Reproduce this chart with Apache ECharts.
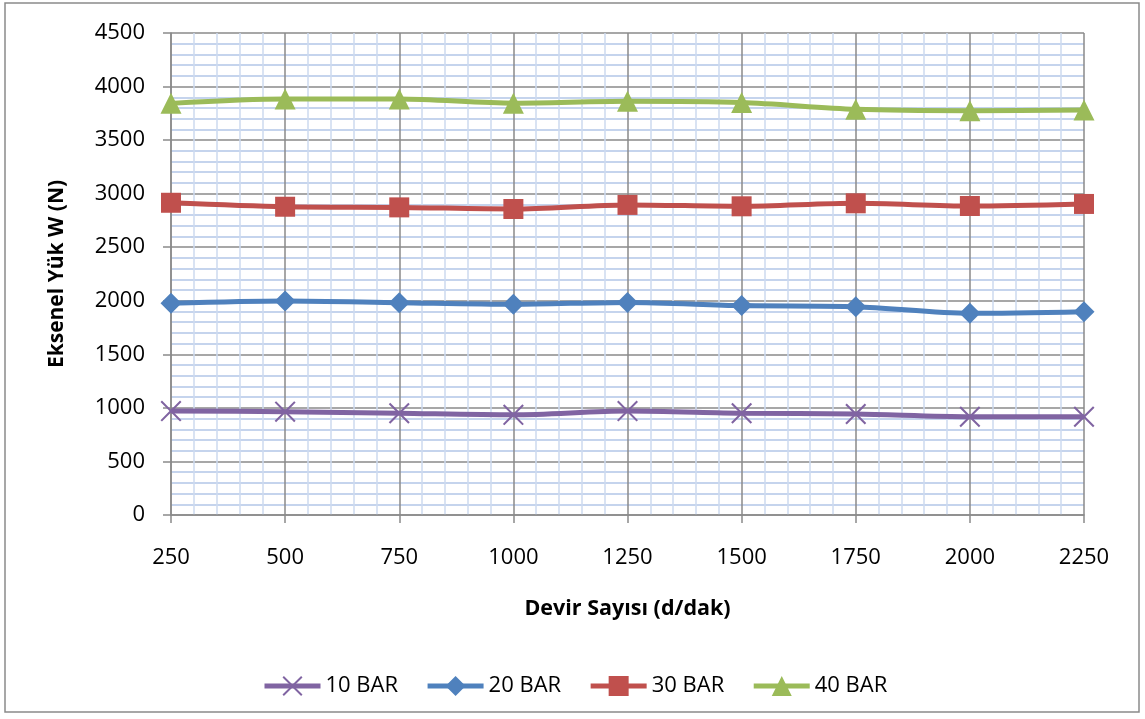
<!DOCTYPE html>
<html>
<head>
<meta charset="utf-8">
<script src="https://cdn.jsdelivr.net/npm/echarts@6/dist/echarts.min.js"></script>
<style>
  html, body { margin: 0; padding: 0; background: #fff; }
  #chart { width: 1145px; height: 719px; }
</style>
</head>
<body>
<div id="chart"></div>
<script>
// Rotational speed (d/dak)
const rpm = [250, 500, 750, 1000, 1250, 1500, 1750, 2000, 2250];
// Axial load W (N) per supply pressure
const bar10 = [970, 965, 950, 935, 970, 950, 943, 918, 918];
const bar20 = [1976, 1998, 1982, 1967, 1985, 1955, 1945, 1883, 1898];
const bar30 = [2915, 2878, 2872, 2857, 2895, 2882, 2910, 2885, 2904];
const bar40 = [3843, 3884, 3884, 3845, 3862, 3850, 3788, 3775, 3781];
const seriesNames = ['10 BAR', '20 BAR', '30 BAR', '40 BAR'];

const FONT = '"Open Sans", "Noto Sans", sans-serif';
const GRID_MAJOR = '#8a8a8a';

// thin "x" marker drawn as a filled outline
const crossPath = 'path://M0,1.4L1.4,0L10,8.6L18.6,0L20,1.4L11.4,10L20,18.6L18.6,20L10,11.4L1.4,20L0,18.6L8.6,10Z';

function pairs(values) {
  return rpm.map((r, i) => [r, values[i]]);
}

function lineSeries(name, values, color, symbol, size) {
  return {
    name: name,
    type: 'line',
    data: pairs(values),
    smooth: 0.3,
    symbol: symbol,
    symbolSize: size,
    showAllSymbol: true,
    lineStyle: { color: color, width: 5 },
    itemStyle: { color: color },
    emphasis: { disabled: true },
    z: 3
  };
}

const plainNumber = v => String(v);

const chart = echarts.init(document.getElementById('chart'), null, { renderer: 'canvas' });

chart.setOption({
  animation: false,
  backgroundColor: '#ffffff',
  textStyle: { fontFamily: FONT },
  graphic: [{
    type: 'rect',
    shape: { x: 5, y: 3, width: 1134, height: 709 },
    style: { fill: 'none', stroke: '#8a8a8a', lineWidth: 1.5 },
    silent: true,
    z: -10
  }],
  grid: { left: 171, right: 61, top: 33, bottom: 204, containLabel: false },
  xAxis: {
    type: 'value',
    min: 250,
    max: 2250,
    interval: 250,
    name: 'Devir Sayısı (d/dak)',
    nameLocation: 'middle',
    nameGap: 83,
    nameTextStyle: { fontFamily: FONT, fontWeight: 'bold', fontSize: 21.5, color: '#000' },
    axisLine: { show: true, lineStyle: { color: GRID_MAJOR, width: 1.5 } },
    axisTick: { show: true, length: 8, lineStyle: { color: GRID_MAJOR, width: 1.5 } },
    axisLabel: { fontFamily: FONT, fontSize: 22, color: '#000', margin: 32, formatter: plainNumber },
    splitLine: { show: true, lineStyle: { color: GRID_MAJOR, width: 1.5 } },
    minorTick: { show: false, splitNumber: 5 },
    minorSplitLine: { show: true, lineStyle: { color: '#cddaf0', width: 1.5 } }
  },
  yAxis: {
    type: 'value',
    min: 0,
    max: 4500,
    interval: 500,
    name: 'Eksenel Yük W (N)',
    nameLocation: 'middle',
    nameGap: 103,
    nameTextStyle: { fontFamily: FONT, fontWeight: 'bold', fontSize: 21, color: '#000' },
    axisLine: { show: true, lineStyle: { color: GRID_MAJOR, width: 1.5 } },
    axisTick: { show: true, length: 8, lineStyle: { color: GRID_MAJOR, width: 1.5 } },
    axisLabel: { fontFamily: FONT, fontSize: 22, color: '#000', margin: 26, formatter: plainNumber },
    splitLine: { show: true, lineStyle: { color: GRID_MAJOR, width: 1.5 } },
    minorTick: { show: false, splitNumber: 5 },
    minorSplitLine: { show: true, lineStyle: { color: '#b3c6e7', width: 1.5 } }
  },
  legend: {
    data: seriesNames,
    left: 257,
    top: 670,
    orient: 'horizontal',
    itemWidth: 56,
    itemHeight: 25,
    itemGap: 27,
    lineStyle: { width: 5 },
    textStyle: { fontFamily: FONT, fontSize: 22, color: '#000' },
    selectedMode: false
  },
  series: [
    lineSeries(seriesNames[0], bar10, '#8064a2', crossPath, 21),
    lineSeries(seriesNames[1], bar20, '#4f81bd', 'diamond', 21),
    lineSeries(seriesNames[2], bar30, '#c0504d', 'rect', 20),
    lineSeries(seriesNames[3], bar40, '#9bbb59', 'triangle', 21)
  ]
});
</script>
</body>
</html>
